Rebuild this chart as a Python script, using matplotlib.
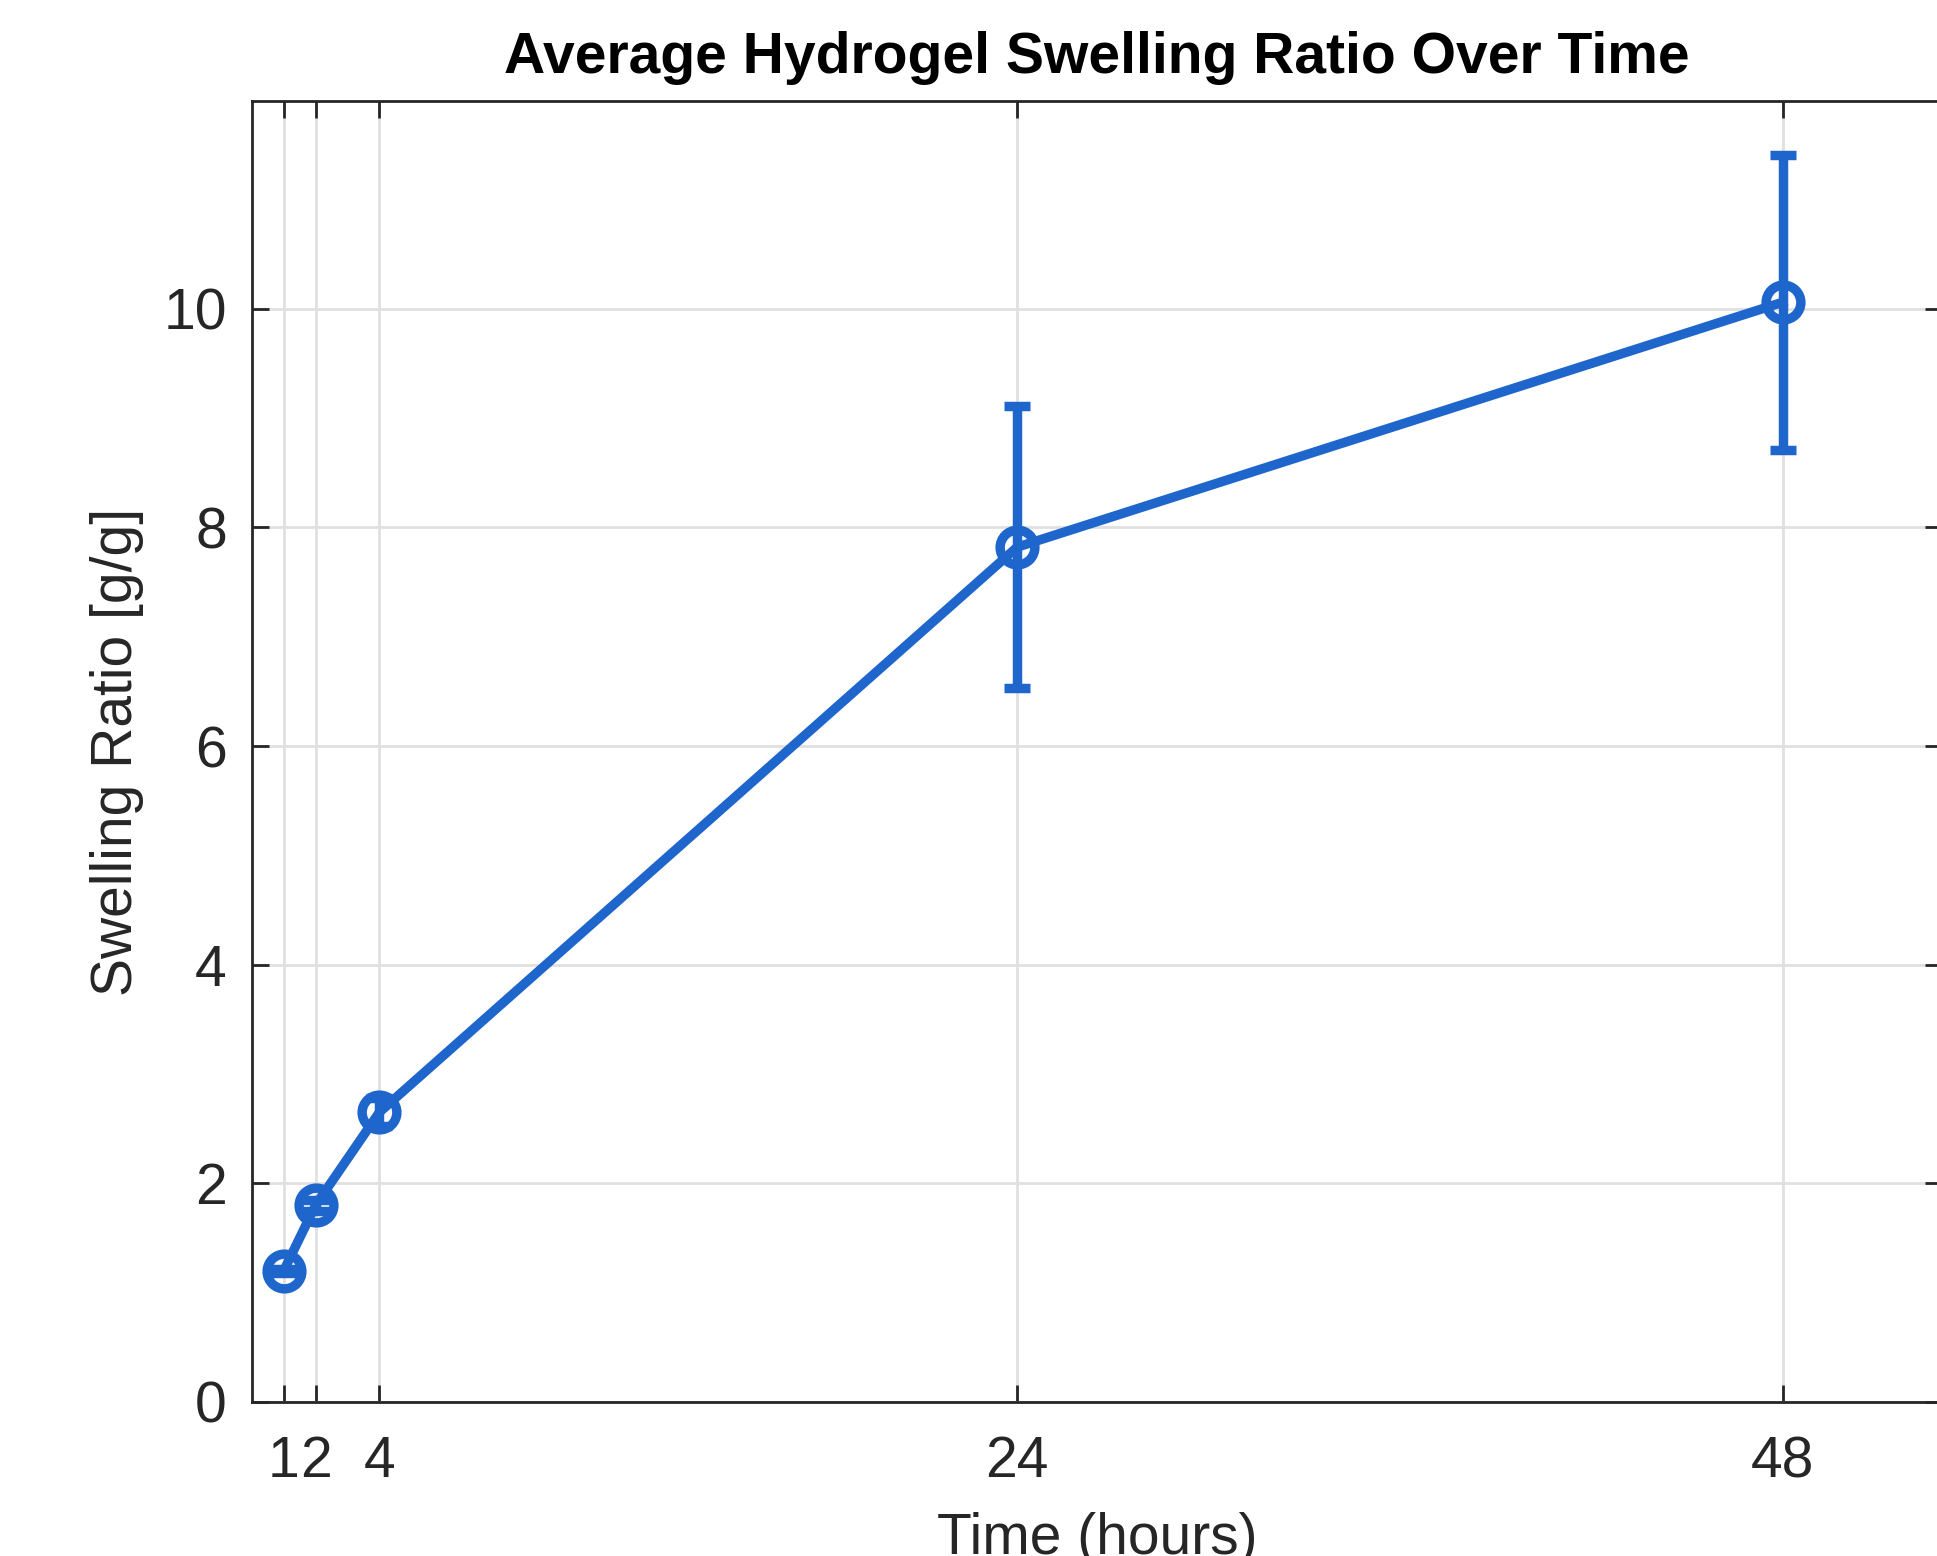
import numpy as np
import matplotlib
matplotlib.use("Agg")
import matplotlib.pyplot as plt

# swelling data
time_h = [1, 2, 4, 24, 48]
swelling = [1.20, 1.80, 2.65, 7.82, 10.06]
swelling_sd = [0.02, 0.05, 0.13, 1.29, 1.35]
xtick_vals = [1, 2, 4, 24, 48]
ytick_vals = [0, 2, 4, 6, 8, 10]

blue = '#1E66CC'
dark = '#262626'

plt.rcParams['font.family'] = ['Liberation Sans', 'DejaVu Sans']

fig = plt.figure(figsize=(1937 / 200, 1556 / 200), dpi=200)
ax = fig.add_axes([0.130, 0.099, 0.8726, 0.836])

ax.errorbar(time_h, swelling, yerr=swelling_sd, color=blue, lw=3.4,
            marker='o', markersize=12.5, markerfacecolor='none',
            markeredgewidth=3.4, capsize=4.8, capthick=3.4, elinewidth=3.4,
            zorder=3)

ax.set_xlim(0, 53)
ax.set_ylim(0, 11.9)
ax.set_xticks(xtick_vals)
ax.set_yticks(ytick_vals)

ax.grid(True, color='#e0e0e0', lw=1.0)
ax.tick_params(direction='in', length=6, width=1.0, colors=dark,
               labelsize=20.5, top=True, right=True)
ax.tick_params(axis='x', pad=12)
ax.tick_params(axis='y', pad=9)
for s in ax.spines.values():
    s.set_color(dark)
    s.set_linewidth(1.0)

ax.set_xlabel('Time (hours)', fontsize=20.5, color=dark, labelpad=8)
ax.set_ylabel('Swelling Ratio [g/g]', fontsize=20.5, color=dark, labelpad=7)
ax.set_title('Average Hydrogel Swelling Ratio Over Time', fontsize=20.5,
             fontweight='bold', color='black', pad=10)

fig.savefig('out.png', dpi=200)
